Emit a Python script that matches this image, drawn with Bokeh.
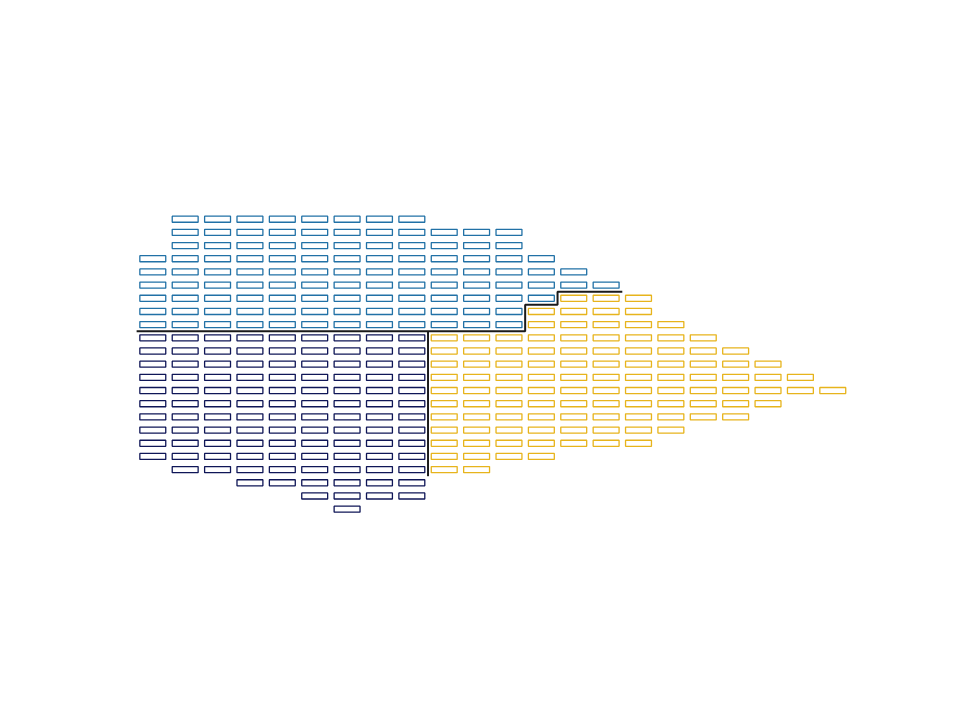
from bokeh.plotting import figure
from bokeh.models import Range1d, ColumnDataSource
from bokeh.embed import file_html
from bokeh.resources import INLINE

# Blue group: for each row, first and last occupied column
blue_row = [0, 1, 2, 3, 4, 5, 6, 7, 8]
blue_first = [1, 1, 1, 0, 0, 0, 0, 0, 0]
blue_last = [8, 11, 11, 12, 13, 14, 12, 11, 11]

# Navy group: for each column, first and last occupied row
navy_col = [0, 1, 2, 3, 4, 5, 6, 7, 8]
navy_top = [9, 9, 9, 9, 9, 9, 9, 9, 9]
navy_bottom = [18, 19, 19, 20, 20, 21, 22, 21, 21]

# Yellow group: for each row, first and last occupied column
yellow_row = [6, 7, 8, 9, 10, 11, 12, 13, 14, 15, 16, 17, 18, 19]
yellow_first = [13, 12, 12, 9, 9, 9, 9, 9, 9, 9, 9, 9, 9, 9]
yellow_last = [15, 15, 16, 17, 18, 19, 20, 21, 19, 18, 16, 15, 12, 10]

BLUE = "#2171a6"
NAVY = "#0f1657"
YELLOW = "#e7b41c"

def cells_by_row(rows, firsts, lasts):
    xs, ys = [], []
    for r, a, b in zip(rows, firsts, lasts):
        for c in range(a, b + 1):
            xs.append(c)
            ys.append(r)
    return xs, ys

def cells_by_col(cols, tops, bottoms):
    xs, ys = [], []
    for c, a, b in zip(cols, tops, bottoms):
        for r in range(a, b + 1):
            xs.append(c)
            ys.append(r)
    return xs, ys

bx, by = cells_by_row(blue_row, blue_first, blue_last)
nx, ny = cells_by_col(navy_col, navy_top, navy_bottom)
yx, yy = cells_by_row(yellow_row, yellow_first, yellow_last)

COLW = 32.38
ROWH = 13.18
X0 = 152.3
Y0 = 218.7
W, H = 960, 720

p = figure(width=W, height=H, output_backend="svg", toolbar_location=None,
           x_range=Range1d(-X0 / COLW, (W - X0) / COLW),
           y_range=Range1d((H - Y0) / ROWH, -Y0 / ROWH),
           x_axis_location=None, y_axis_location=None, min_border=0)
p.xgrid.visible = False
p.ygrid.visible = False
p.outline_line_color = None
p.background_fill_color = "white"
p.border_fill_color = "white"

for xs, ys, col in [(bx, by, BLUE), (nx, ny, NAVY), (yx, yy, YELLOW)]:
    src = ColumnDataSource(dict(x=xs, y=ys))
    p.rect(x="x", y="y", width=0.8, height=0.46, source=src,
           fill_color=None, line_color=col, line_width=1.3)

# Boundary under the blue group (step line)
blue_cols = sorted(set(bx))
lx, ly = [], []
for c in blue_cols:
    bottom = max(r for r, a, b in zip(blue_row, blue_first, blue_last) if a <= c <= b)
    lx += [c - 0.5, c + 0.5]
    ly += [bottom + 0.5, bottom + 0.5]
p.line(lx, ly, line_color="#1a1a1a", line_width=2)

# Boundary between navy and yellow
edge_col = navy_col[-1]
shared_rows = [r for r, a in zip(yellow_row, yellow_first) if a <= edge_col + 1
               and navy_top[-1] <= r <= navy_bottom[-1]]
p.line([edge_col + 0.5, edge_col + 0.5],
       [navy_top[-1] - 0.5, max(shared_rows) + 0.5],
       line_color="#1a1a1a", line_width=2)

open("out.html", "w").write(file_html(p, INLINE))
